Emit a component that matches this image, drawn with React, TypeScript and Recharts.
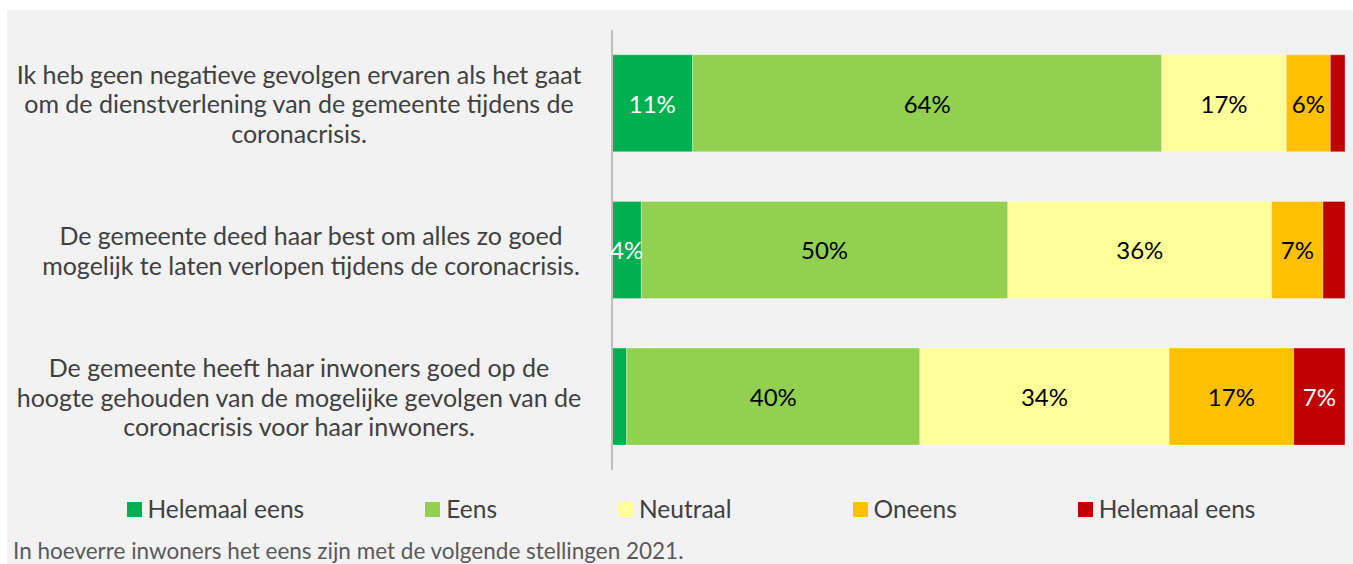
import React from 'react';
import { BarChart, Bar, XAxis, YAxis, LabelList } from 'recharts';

// Statements, wrapped the way they appear beside the bars
const statementLines: string[][] = [
  [
    'Ik heb geen negatieve gevolgen ervaren als het gaat',
    'om de dienstverlening van de gemeente tijdens de',
    'coronacrisis.',
  ],
  [
    'De gemeente deed haar best om alles zo goed',
    'mogelijk te laten verlopen tijdens de coronacrisis.',
  ],
  [
    'De gemeente heeft haar inwoners goed op de',
    'hoogte gehouden van de mogelijke gevolgen van de',
    'coronacrisis voor haar inwoners.',
  ],
];
const statements = statementLines.map((lines) => lines.join(' '));

// Share of respondents per answer (%)
const helemaalEens = [11, 4, 2];
const eens = [64, 50, 40];
const neutraal = [17, 36, 34];
const oneens = [6, 7, 17];
const helemaalOneens = [2, 3, 7];

const seriesNames = ['Helemaal eens', 'Eens', 'Neutraal', 'Oneens', 'Helemaal eens'];
const seriesKeys = ['he', 'e', 'n', 'o', 'ho'];
const seriesColors = ['#00b050', '#92d050', '#ffff99', '#ffc000', '#c00000'];
const labelColors = ['#ffffff', '#000000', '#000000', '#000000', '#ffffff'];

const caption = 'In hoeverre inwoners het eens zijn met de volgende stellingen 2021.';

const data = statements.map((s, i) => ({
  statement: s,
  he: helemaalEens[i],
  e: eens[i],
  n: neutraal[i],
  o: oneens[i],
  ho: helemaalOneens[i],
}));

const FONT = 'Lato, "Open Sans", sans-serif';

// horizontal centre of each wrapped statement block
const tickCentres = [292, 304, 292];

const StatementTick = (props: any) => {
  const { y, payload } = props;
  const idx = statements.indexOf(payload.value);
  const lines = statementLines[idx] || [];
  const cx = tickCentres[idx] ?? 292;
  const lh = 29.5;
  const start = y - ((lines.length - 1) * lh) / 2;
  return (
    <text
      textAnchor="middle"
      fill="#404040"
      fontSize={25}
      fontFamily={FONT}
      dominantBaseline="central"
    >
      {lines.map((l, i) => (
        <tspan key={i} x={cx} y={start + i * lh}>
          {l}
        </tspan>
      ))}
    </text>
  );
};

const makeLabel = (color: string) => (props: any) => {
  const { x, y, width, height, value } = props;
  if (value == null || value < 4) return null;
  return (
    <text
      x={x + width / 2}
      y={y + height / 2}
      textAnchor="middle"
      dominantBaseline="central"
      fill={color}
      fontSize={24}
      fontFamily={FONT}
    >
      {`${value}%`}
    </text>
  );
};

const LegendRow = () => (
  <div
    style={{
      position: 'absolute',
      left: 0,
      top: 484,
      width: 1346,
      display: 'flex',
      justifyContent: 'center',
      gap: 121,
      fontFamily: FONT,
      fontSize: 24.5,
      lineHeight: '30px',
      color: '#404040',
      paddingLeft: 22,
      boxSizing: 'border-box',
    }}
  >
    {seriesNames.map((name, i) => (
      <div key={i} style={{ display: 'flex', alignItems: 'center' }}>
        <span
          style={{
            display: 'inline-block',
            width: 15,
            height: 15,
            background: seriesColors[i],
            marginRight: 6,
          }}
        />
        <span>{name}</span>
      </div>
    ))}
  </div>
);

export default function App() {
  return (
    <div style={{ position: 'absolute', left: 0, top: 0, width: 1353, height: 564, background: '#ffffff' }}>
      <div
        style={{
          position: 'absolute',
          left: 7,
          top: 10,
          width: 1346,
          height: 554,
          background: '#f2f2f2',
        }}
      >
        <BarChart
          width={1346}
          height={554}
          data={data}
          layout="vertical"
          margin={{ top: 20, right: 8, bottom: 94, left: 0 }}
          barCategoryGap="16.9%"
        >
          <XAxis type="number" domain={[0, 100]} hide />
          <YAxis
            type="category"
            dataKey="statement"
            width={605}
            axisLine={{ stroke: '#bfbfbf', strokeWidth: 2 }}
            tickLine={false}
            tick={<StatementTick />}
            interval={0}
          />
          {seriesKeys.map((k, i) => (
            <Bar
              key={k}
              dataKey={k}
              name={seriesNames[i]}
              stackId="a"
              fill={seriesColors[i]}
              stroke="#ffffff"
              strokeOpacity={0.3}
              strokeWidth={1}
              isAnimationActive={false}
            >
              <LabelList dataKey={k} content={makeLabel(labelColors[i])} />
            </Bar>
          ))}
        </BarChart>
        <LegendRow />
        <div
          style={{
            position: 'absolute',
            left: 6,
            top: 527,
            fontFamily: FONT,
            fontSize: 22.5,
            color: '#595959',
            whiteSpace: 'nowrap',
          }}
        >
          {caption}
        </div>
      </div>
    </div>
  );
}
